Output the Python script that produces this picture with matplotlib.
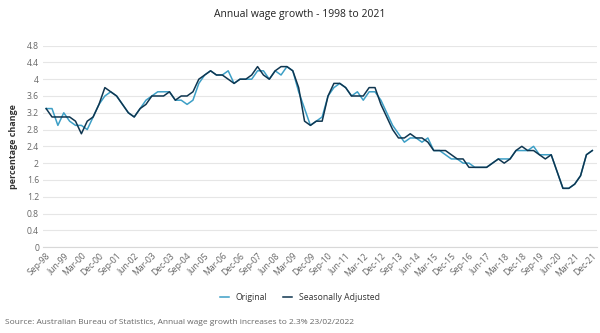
import numpy as np
import matplotlib
matplotlib.use("Agg")
import matplotlib.pyplot as plt

plt.rcParams['font.family'] = ['Open Sans', 'DejaVu Sans']

# quarterly, Sep-98 .. Dec-21
years = list(range(1998, 2022))
months = ["Mar", "Jun", "Sep", "Dec"]
quarters = [f"{m}-{str(y)[2:]}" for y in years for m in months][2:]

original = [3.3, 3.3, 2.9, 3.2, 3.0, 2.9, 2.9, 2.8, 3.1, 3.4,
            3.6, 3.7, 3.6, 3.4, 3.2, 3.1, 3.3, 3.5, 3.6, 3.7,
            3.7, 3.7, 3.5, 3.5, 3.4, 3.5, 3.9, 4.1, 4.2, 4.1,
            4.1, 4.2, 3.9, 4.0, 4.0, 4.0, 4.2, 4.2, 4.0, 4.2,
            4.1, 4.3, 4.2, 3.7, 3.3, 2.9, 3.0, 3.1, 3.6, 3.8,
            3.9, 3.8, 3.6, 3.7, 3.5, 3.7, 3.7, 3.5, 3.2, 2.9,
            2.7, 2.5, 2.6, 2.6, 2.5, 2.6, 2.3, 2.3, 2.2, 2.1,
            2.1, 2.0, 2.0, 1.9, 1.9, 1.9, 2.0, 2.1, 2.1, 2.1,
            2.3, 2.3, 2.3, 2.4, 2.2, 2.2, 2.2, 1.8, 1.4, 1.4,
            1.5, 1.7, 2.2, 2.3]

seas_adj = [3.3, 3.1, 3.1, 3.1, 3.1, 3.0, 2.7, 3.0, 3.1, 3.4,
            3.8, 3.7, 3.6, 3.4, 3.2, 3.1, 3.3, 3.4, 3.6, 3.6,
            3.6, 3.7, 3.5, 3.6, 3.6, 3.7, 4.0, 4.1, 4.2, 4.1,
            4.1, 4.0, 3.9, 4.0, 4.0, 4.1, 4.3, 4.1, 4.0, 4.2,
            4.3, 4.3, 4.2, 3.8, 3.0, 2.9, 3.0, 3.0, 3.6, 3.9,
            3.9, 3.8, 3.6, 3.6, 3.6, 3.8, 3.8, 3.4, 3.1, 2.8,
            2.6, 2.6, 2.7, 2.6, 2.6, 2.5, 2.3, 2.3, 2.3, 2.2,
            2.1, 2.1, 1.9, 1.9, 1.9, 1.9, 2.0, 2.1, 2.0, 2.1,
            2.3, 2.4, 2.3, 2.3, 2.2, 2.1, 2.2, 1.8, 1.4, 1.4,
            1.5, 1.7, 2.2, 2.3]

yticks = [0, 0.4, 0.8, 1.2, 1.6, 2, 2.4, 2.8, 3.2, 3.6, 4, 4.4, 4.8]

fig = plt.figure(figsize=(6, 3.33), dpi=100)
ax = fig.add_axes([0.072, 0.258, 0.923, 0.605])

x = np.arange(len(quarters))
ax.plot(x, original, color="#3d9fc6", lw=1.1, label="Original", zorder=3)
ax.plot(x, seas_adj, color="#0f3650", lw=1.1, label="Seasonally Adjusted", zorder=4)

ax.set_xlim(-0.5, 93.8)
ax.set_ylim(0, 4.8)
ax.set_yticks(yticks)
ax.set_yticklabels([f"{v:g}" for v in yticks])
ax.set_xticks(x[::3])
ax.set_xticklabels(quarters[::3], rotation=45, ha="right", rotation_mode="anchor")

ax.grid(axis="y", color="#e6e6e6", lw=0.8)
ax.set_axisbelow(True)
for s in ax.spines.values():
    s.set_visible(False)
ax.spines["bottom"].set_visible(True)
ax.spines["bottom"].set_color("#d8d8d8")
ax.tick_params(axis="both", length=0, labelsize=6.2, colors="#666666", pad=3)

ax.set_ylabel("percentage change", fontsize=6.5, fontweight="bold", color="#333333", labelpad=6)

fig.text(0.5, 0.955, "Annual wage growth - 1998 to 2021", ha="center", va="center",
         fontsize=7.5, color="#222222")

fig.legend(loc="center", bbox_to_anchor=(0.5, 0.108), ncol=2, frameon=False,
           fontsize=6.2, handlelength=1.0, columnspacing=1.8, labelcolor="#333333")

fig.text(0.008, 0.033, "Source: Australian Bureau of Statistics, Annual wage growth increases to 2.3% 23/02/2022",
         fontsize=6, color="#666666", va="center")

fig.savefig("out.png", dpi=100)
